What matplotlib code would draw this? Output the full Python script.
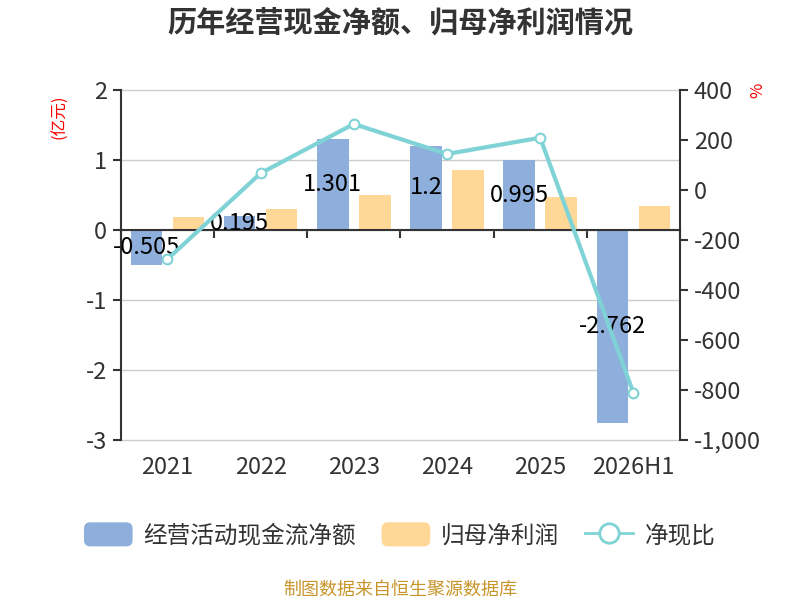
import matplotlib.pyplot as plt
import numpy as np
from matplotlib.patches import FancyBboxPatch, Patch
from matplotlib.lines import Line2D
from matplotlib.legend_handler import HandlerPatch
from matplotlib.ticker import FuncFormatter

plt.rcParams['font.family'] = ['Noto Sans CJK SC', 'DejaVu Sans']
plt.rcParams['axes.unicode_minus'] = False

years = ['2021', '2022', '2023', '2024', '2025', '2026H1']
cash_flow = [-0.505, 0.195, 1.301, 1.2, 0.995, -2.762]
net_profit = [0.19, 0.305, 0.50, 0.857, 0.476, 0.343]
cash_ratio = [-277, 67, 264, 144, 209, -811]

blue = '#8eaedb'
orange = '#ffd898'
teal = '#7fd3d6'
dark = '#333333'


def rounded_patch(legend, orig_handle, xdescent, ydescent, width, height, fontsize):
    # rounded rectangle legend key like the original
    return FancyBboxPatch((-xdescent, -ydescent), width, height,
                          boxstyle='round,pad=0,rounding_size=4')


fig = plt.figure(figsize=(8, 6), dpi=100)
ax = fig.add_axes([0.151, 0.2667, 0.699, 0.5833])
ax2 = ax.twinx()

x = np.arange(len(years))
w = 0.34
ax.bar(x - 0.225, cash_flow, w, color=blue, zorder=2)
ax.bar(x + 0.225, net_profit, w, color=orange, zorder=2)

for xi, v in zip(x, cash_flow):
    lbl = f'{v:g}'
    ax.text(xi - 0.225, v / 2, lbl, ha='center', va='center', fontsize=17,
            color='black', zorder=5)

ax.set_xlim(-0.5, len(years) - 0.5)
ax.set_ylim(-3, 2)
ax.set_yticks([-3, -2, -1, 0, 1, 2])
ax.grid(axis='y', color='#cccccc', linewidth=1, zorder=0)
for gl in ax.get_ygridlines():
    gl.set_clip_on(False)
ax.tick_params(axis='y', length=6, width=1.5, color=dark, labelsize=17,
               labelcolor=dark, pad=4)

ax.spines['top'].set_visible(False)
ax.spines['right'].set_visible(False)
ax.spines['left'].set_color(dark)
ax.spines['left'].set_linewidth(1.5)
ax.spines['bottom'].set_position(('data', 0))
ax.spines['bottom'].set_color(dark)
ax.spines['bottom'].set_linewidth(1.5)
ax.spines['bottom'].set_zorder(4)
ax.set_xticks(x)
ax.set_xticklabels([])
ax.tick_params(axis='x', which='major', length=0)
ax.set_xticks(np.arange(-0.5, len(years)), minor=True)
ax.tick_params(axis='x', which='minor', length=6, width=1.5, color=dark,
               direction='out')
for xi, yr in zip(x, years):
    ax.text(xi, -0.08, yr, transform=ax.get_xaxis_transform(), ha='center',
            va='center', fontsize=17, color=dark)

ax2.plot(x, cash_ratio, color=teal, linewidth=3, marker='o', markersize=7,
         markerfacecolor='white', markeredgecolor=teal, markeredgewidth=1.5,
         zorder=6)
ax2.set_ylim(-1000, 400)
ax2.set_yticks(np.arange(-1000, 401, 200))
ax2.yaxis.set_major_formatter(FuncFormatter(lambda v, p: f'{int(v):,}'))
ax2.tick_params(axis='y', length=6, width=1.5, color=dark, labelsize=17,
                labelcolor=dark, pad=4)
for s in ['top', 'left', 'bottom']:
    ax2.spines[s].set_visible(False)
ax2.spines['right'].set_color(dark)
ax2.spines['right'].set_linewidth(1.5)

fig.text(0.075, 0.805, '(亿元)', rotation=90, color='red', fontsize=12,
         ha='center', va='center')
fig.text(0.947, 0.85, '%', rotation=90, color='red', fontsize=12,
         ha='center', va='center')

fig.text(0.5, 0.963, '历年经营现金净额、归母净利润情况', ha='center', va='center',
         fontsize=21, fontweight='bold', color=dark)

handles = [
    Patch(color=blue),
    Patch(color=orange),
    Line2D([], [], color=teal, linewidth=2, marker='o', markersize=14,
           markerfacecolor='white', markeredgecolor=teal, markeredgewidth=2),
]
fig.legend(handles, ['经营活动现金流净额', '归母净利润', '净现比'], loc='center',
           bbox_to_anchor=(0.5, 0.108), ncol=3, frameon=False, fontsize=17,
           handlelength=2.0, handleheight=1.1, columnspacing=1.1,
           handletextpad=0.5, labelcolor=dark,
           handler_map={Patch: HandlerPatch(patch_func=rounded_patch)})

fig.text(0.5, 0.018, '制图数据来自恒生聚源数据库', ha='center', va='center',
         fontsize=13, color='#c8952a')

fig.savefig('out.png', dpi=100)
